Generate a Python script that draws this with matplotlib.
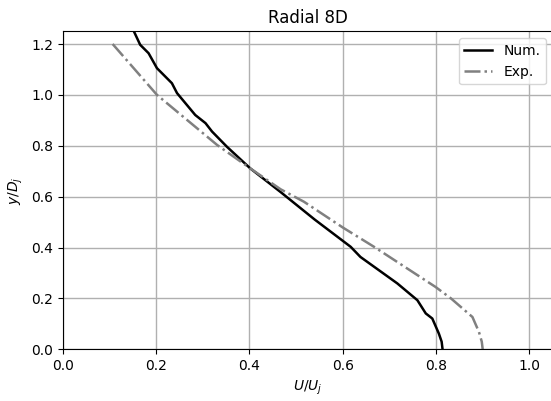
import matplotlib
matplotlib.use("Agg")
import matplotlib.pyplot as plt

# valores
num_u = [0.152, 0.166, 0.184, 0.202, 0.234, 0.245, 0.284, 0.306, 0.320, 0.352,
         0.402, 0.467, 0.540, 0.617, 0.638, 0.717, 0.760, 0.778, 0.792, 0.806, 0.812, 0.814]
num_y = [1.252, 1.197, 1.164, 1.105, 1.046, 1.007, 0.921, 0.889, 0.856, 0.796,
         0.711, 0.618, 0.510, 0.403, 0.363, 0.259, 0.193, 0.141, 0.121, 0.062, 0.030, 0.0]

exp_u = [0.107, 0.202, 0.331, 0.402, 0.467, 0.517, 0.600, 0.667, 0.799, 0.832,
         0.878, 0.892, 0.898, 0.900]
exp_y = [1.20, 1.0, 0.803, 0.711, 0.629, 0.580, 0.479, 0.403, 0.245, 0.200,
         0.127, 0.068, 0.030, 0.0]

fig = plt.figure(figsize=(5.51, 4.01), dpi=100)
ax = fig.add_axes([62.7 / 551, (401 - 349.3) / 401, 490 / 551, 318 / 401])

ax.plot(num_u, num_y, color='black', lw=1.8, label='Num.')
ax.plot(exp_u, exp_y, color='gray', lw=1.8, ls='-.', label='Exp.')

ax.set_xlim(0, 1.05)
ax.set_ylim(0, 1.25)
ax.grid(True, color='#b0b0b0', lw=1.0)
ax.set_title('Radial 8D', fontsize=12)
ax.set_xlabel('$U/U_j$', fontsize=10)
ax.set_ylabel('$y/D_j$', fontsize=10)
ax.tick_params(labelsize=10)
ax.legend(loc='upper right', fontsize=10)

fig.savefig('out.png', dpi=100)
